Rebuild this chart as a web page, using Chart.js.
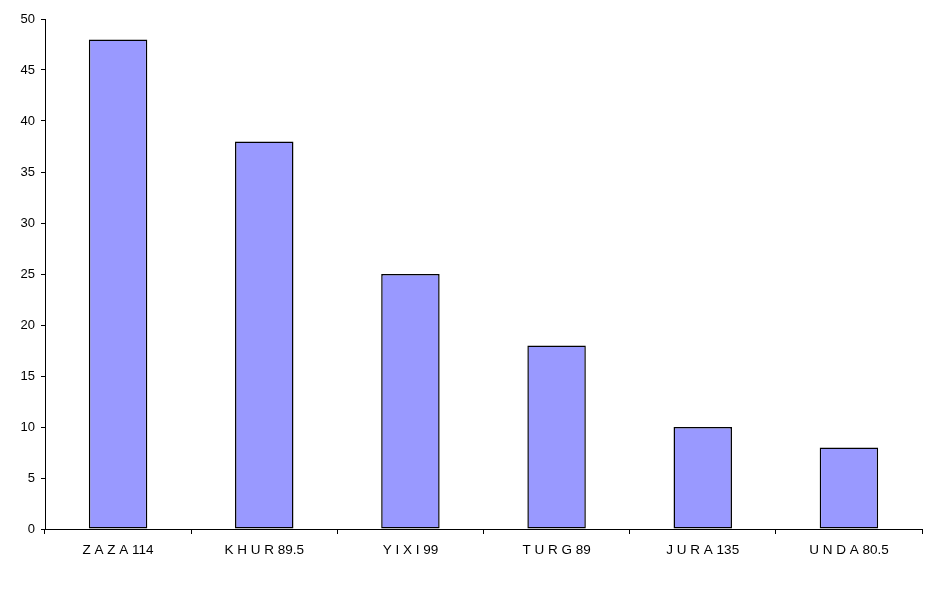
<!DOCTYPE html>
<html>
<head>
<meta charset="utf-8">
<script src="https://cdn.jsdelivr.net/npm/chart.js@4/dist/chart.umd.min.js"></script>
<style>
  html, body { margin: 0; padding: 0; background: #fff; }
  #wrap { width: 940px; height: 590px; }
</style>
</head>
<body>
<div id="wrap"><canvas id="myChart" width="940" height="590"></canvas></div>
<script>
'use strict';

// ***** DATA *****
const categories = ['Z A Z A 114', 'K H U R 89.5', 'Y I X I 99', 'T U R G 89', 'J U R A 135', 'U N D A 80.5'];
const values = [48, 38, 25, 18, 10, 8];
const yTicks = [0, 5, 10, 15, 20, 25, 30, 35, 40, 45, 50];

const ctx = document.getElementById('myChart').getContext('2d');
const fontFamily = '"Liberation Sans", Arial, sans-serif';

new Chart(ctx, {
  type: 'bar',
  data: {
    labels: categories,
    datasets: [{
      data: values,
      backgroundColor: '#9999ff',
      borderColor: '#000',
      borderWidth: 1.5,
      borderSkipped: false,
      barPercentage: 0.4,
      categoryPercentage: 1
    }]
  },
  options: {
    responsive: false,
    animation: false,
    layout: { padding: { left: 0, right: 18, top: 19, bottom: 0 } },
    plugins: { legend: { display: false }, tooltip: { enabled: false } },
    scales: {
      x: {
        grid: { display: true, drawOnChartArea: false, drawTicks: true, tickLength: 5, color: '#000', offset: true },
        border: { color: '#000', width: 1 },
        ticks: { color: '#000', font: { family: fontFamily, size: 13.5 }, padding: 8, maxRotation: 0 },
        afterFit: (scale) => { scale.height = 61; }
      },
      y: {
        min: 0,
        max: 50,
        afterBuildTicks: (scale) => { scale.ticks = yTicks.map(v => ({ value: v })); },
        grid: { display: true, drawOnChartArea: false, drawTicks: true, tickLength: 4, color: '#000' },
        border: { color: '#000', width: 1 },
        ticks: { color: '#000', font: { family: fontFamily, size: 13 }, padding: 6 },
        afterFit: (scale) => { scale.width = 45; }
      }
    }
  }
});
</script>
</body>
</html>
